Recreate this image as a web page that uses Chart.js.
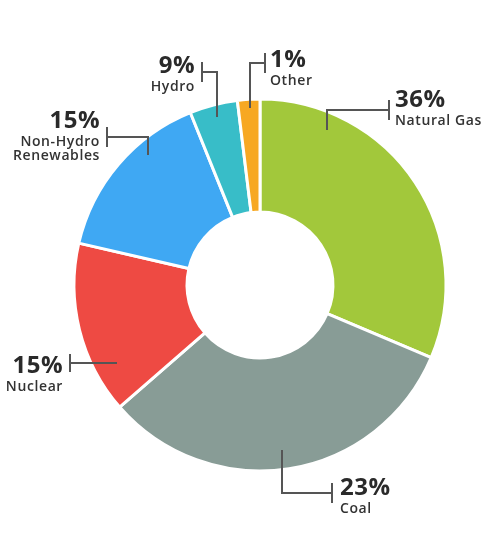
<!DOCTYPE html>
<html>
<head>
<meta charset="utf-8">
<script src="https://cdn.jsdelivr.net/npm/chart.js@4/dist/chart.umd.min.js"></script>
<style>
  html, body { margin: 0; padding: 0; background: #fff; }
  #wrap { width: 500px; height: 538px; }
</style>
</head>
<body>
<div id="wrap"><canvas id="energyChart" width="500" height="538"></canvas></div>
<script>
// slice sizes as drawn (degrees of the ring), and the printed labels
const categories = ['Natural Gas', 'Coal', 'Nuclear', 'Non-Hydro Renewables', 'Hydro', 'Other'];
const sliceValues = [113, 116, 54, 55, 15, 7];
const percentLabels = ['36%', '23%', '15%', '15%', '9%', '1%'];
const nameLines = [['Natural Gas'], ['Coal'], ['Nuclear'], ['Non-Hydro', 'Renewables'], ['Hydro'], ['Other']];
const sliceColors = ['#a2c83b', '#889c96', '#ee4a43', '#3fa8f3', '#38bdc8', '#f7a823'];

// callout layout: text anchor + connector path + end bar
const callouts = [
  { align: 'left',  x: 395, y: 107, path: [[327,130],[327,110],[389,110]], bar: [389,100,120] },
  { align: 'left',  x: 340, y: 495, path: [[282,450],[282,493],[332,493]], bar: [332,483,503] },
  { align: 'right', x: 63,  y: 373, path: [[117,363],[70,363]],            bar: [70,354,372] },
  { align: 'right', x: 100, y: 128, path: [[148,155],[148,137],[107,137]], bar: [107,127,147] },
  { align: 'right', x: 195, y: 73,  path: [[217,117],[217,72],[202,72]],   bar: [202,62,82] },
  { align: 'left',  x: 270, y: 67,  path: [[250,108],[250,63],[265,63]],   bar: [265,53,73] }
];

const calloutPlugin = {
  id: 'callouts',
  afterDraw(chart) {
    const ctx = chart.ctx;
    ctx.save();
    ctx.strokeStyle = '#555';
    ctx.lineWidth = 2;
    callouts.forEach(c => {
      ctx.beginPath();
      c.path.forEach((p, i) => i ? ctx.lineTo(p[0], p[1]) : ctx.moveTo(p[0], p[1]));
      ctx.stroke();
      ctx.beginPath();
      ctx.moveTo(c.bar[0], c.bar[1]);
      ctx.lineTo(c.bar[0], c.bar[2]);
      ctx.stroke();
    });
    ctx.fillStyle = '#2a2a2a';
    ctx.textBaseline = 'alphabetic';
    callouts.forEach((c, i) => {
      ctx.textAlign = c.align;
      ctx.letterSpacing = '0.5px';
      ctx.font = 'bold 24px "Open Sans"';
      ctx.fillText(percentLabels[i], c.x, c.y);
      ctx.letterSpacing = '0.6px';
      ctx.font = '600 14px "Open Sans"';
      ctx.fillStyle = '#333';
      nameLines[i].forEach((line, j) => {
        ctx.fillText(line, c.x, c.y + 18 + j * 14);
      });
      ctx.fillStyle = '#2a2a2a';
    });
    ctx.restore();
  }
};

new Chart(document.getElementById('energyChart'), {
  type: 'doughnut',
  data: {
    labels: categories,
    datasets: [{
      data: sliceValues,
      backgroundColor: sliceColors,
      borderColor: '#ffffff',
      borderWidth: 3
    }]
  },
  options: {
    responsive: false,
    animation: false,
    radius: 186,
    cutout: 72,
    layout: { padding: { left: 75, right: 55, top: 100, bottom: 68 } },
    plugins: {
      legend: { display: false },
      tooltip: { enabled: false }
    }
  },
  plugins: [calloutPlugin]
});
</script>
</body>
</html>
